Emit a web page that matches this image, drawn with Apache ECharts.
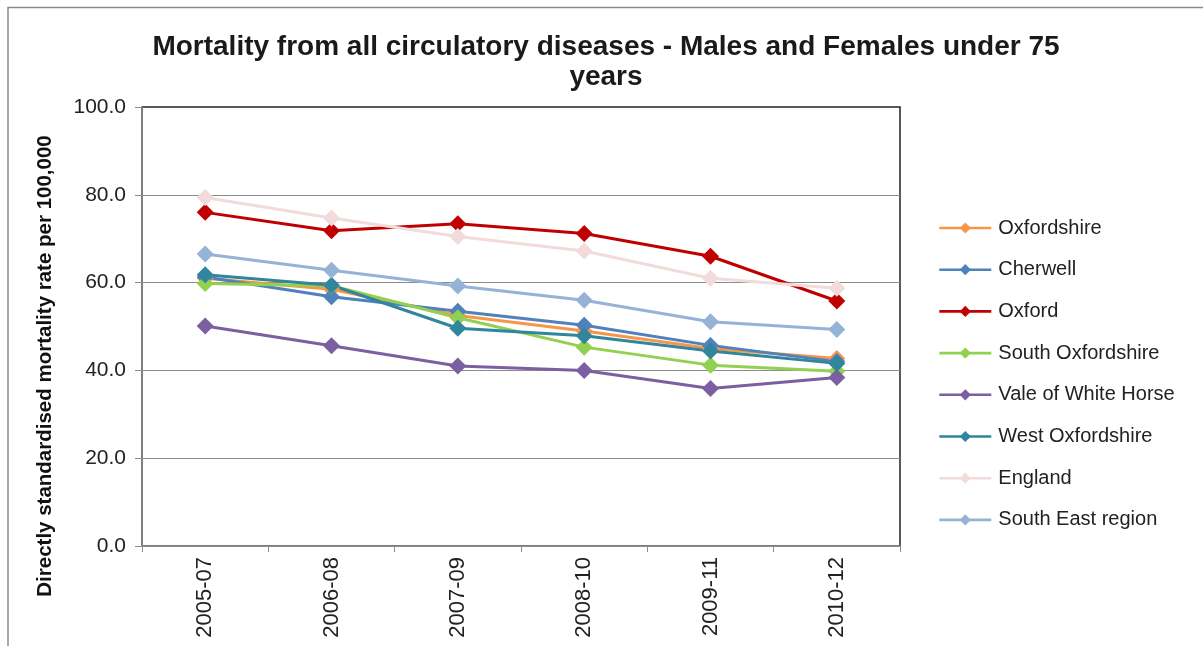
<!DOCTYPE html>
<html>
<head>
<meta charset="utf-8">
<script src="https://cdn.jsdelivr.net/npm/echarts@6/dist/echarts.min.js"></script>
<style>
  html, body { margin: 0; padding: 0; background: #ffffff; }
  #chart { width: 1203px; height: 646px; }
</style>
</head>
<body>
<div id="chart"></div>
<script>
// Three-year rolling periods
const periods = ['2005-07', '2006-08', '2007-09', '2008-10', '2009-11', '2010-12'];

// Directly standardised mortality rate per 100,000, under 75s
const oxfordshire      = [61.0, 58.5, 52.5, 49.0, 45.0, 42.7];
const cherwell         = [61.3, 56.8, 53.5, 50.3, 45.7, 42.0];
const oxford           = [76.0, 71.8, 73.4, 71.2, 66.0, 55.8];
const southOxfordshire = [59.8, 59.3, 52.0, 45.3, 41.2, 39.8];
const valeOfWhiteHorse = [50.1, 45.6, 41.0, 40.0, 35.9, 38.4];
const westOxfordshire  = [61.8, 59.4, 49.6, 47.9, 44.4, 41.6];
const england          = [79.4, 74.7, 70.5, 67.2, 61.0, 58.7];
const southEastRegion  = [66.5, 62.8, 59.2, 56.0, 51.1, 49.3];

const seriesDefs = [
  { name: 'Oxfordshire',         data: oxfordshire,      color: '#F79646' },
  { name: 'Cherwell',            data: cherwell,         color: '#4F81BD' },
  { name: 'Oxford',              data: oxford,           color: '#C00000' },
  { name: 'South Oxfordshire',   data: southOxfordshire, color: '#92D050' },
  { name: 'Vale of White Horse', data: valeOfWhiteHorse, color: '#7B5FA0' },
  { name: 'West Oxfordshire',    data: westOxfordshire,  color: '#31859C' },
  { name: 'England',             data: england,          color: '#F2DCDB' },
  { name: 'South East region',   data: southEastRegion,  color: '#95B3D7' }
];

const font = '"Liberation Sans", Arial, sans-serif';
const chart = echarts.init(document.getElementById('chart'), null, { renderer: 'canvas' });

chart.setOption({
  backgroundColor: '#ffffff',
  animation: false,
  grid: {
    left: 142,
    top: 107,
    right: 303,
    bottom: 100,
    show: true,
    borderColor: '#222',
    borderWidth: 1.5,
    backgroundColor: 'transparent'
  },
  legend: {
    orient: 'vertical',
    left: 933,
    top: 213,
    itemWidth: 52,
    itemHeight: 14,
    itemGap: 21.7,
    lineStyle: { width: 2.6 },
    textStyle: { fontFamily: font, fontSize: 20, color: '#222', padding: [0, 0, 0, 2] },
    data: seriesDefs.map(s => s.name)
  },
  xAxis: {
    type: 'category',
    data: periods,
    boundaryGap: true,
    axisLine: { lineStyle: { color: '#8c8c8c', width: 1.5 } },
    axisTick: { show: true, length: 6, lineStyle: { color: '#8c8c8c' } },
    axisLabel: {
      rotate: 90,
      margin: 11,
      fontFamily: font,
      fontSize: 22,
      color: '#222'
    },
    splitLine: { show: false }
  },
  yAxis: {
    type: 'value',
    min: 0,
    max: 100,
    interval: 20,
    axisLine: { show: true, lineStyle: { color: '#8c8c8c', width: 1.5 } },
    axisTick: { show: true, length: 7, lineStyle: { color: '#8c8c8c' } },
    axisLabel: {
      margin: 16,
      fontFamily: font,
      fontSize: 21,
      color: '#222',
      formatter: v => v.toFixed(1)
    },
    splitLine: {
      show: true,
      showMaxLine: false,
      lineStyle: { color: '#8c8c8c', width: 1.2 }
    }
  },
  graphic: [
    {
      type: 'rect',
      silent: true,
      shape: { x: 8, y: 7.5, width: 1300, height: 800 },
      style: { fill: 'none', stroke: '#8a8a8a', lineWidth: 1.5 },
      z: -10
    },
    {
      // chart title, two centred lines
      type: 'text',
      silent: true,
      x: 606,
      y: 32,
      style: {
        text: 'Mortality from all circulatory diseases - Males and Females under 75\nyears',
        fontFamily: font,
        fontSize: 28,
        fontWeight: 'bold',
        lineHeight: 30,
        fill: '#1a1a1a',
        align: 'center',
        verticalAlign: 'top'
      }
    },
    {
      // y-axis title
      type: 'text',
      silent: true,
      x: 45,
      y: 366,
      rotation: Math.PI / 2,
      style: {
        text: 'Directly standardised mortality rate per 100,000',
        fontFamily: font,
        fontSize: 20.5,
        fontWeight: 'bold',
        fill: '#111',
        align: 'center',
        verticalAlign: 'middle'
      }
    }
  ],
  series: seriesDefs.map(s => ({
    name: s.name,
    type: 'line',
    data: s.data,
    symbol: 'diamond',
    symbolSize: 17,
    color: s.color,
    lineStyle: { color: s.color, width: 3 },
    itemStyle: { color: s.color },
    emphasis: { disabled: true }
  }))
});
</script>
</body>
</html>
